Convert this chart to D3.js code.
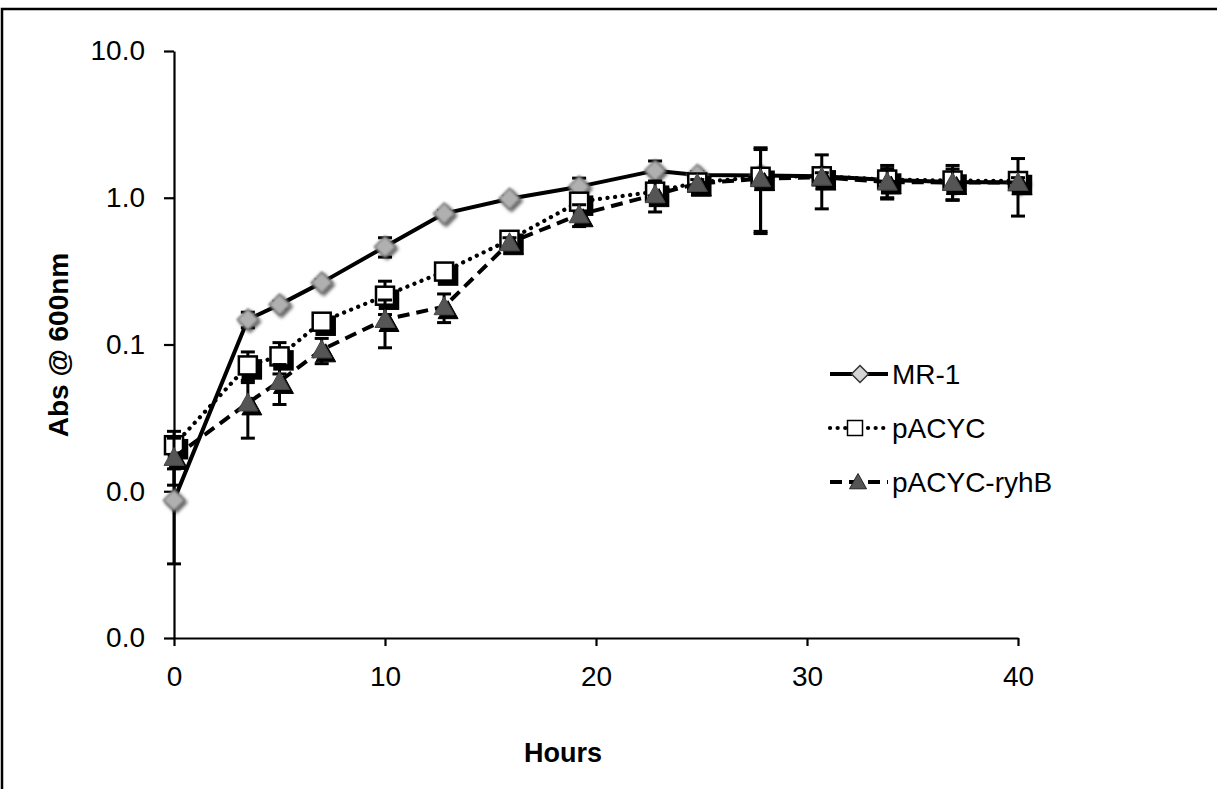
<!DOCTYPE html>
<html>
<head>
<meta charset="utf-8">
<script src="https://cdn.jsdelivr.net/npm/d3@7"></script>
<style>
  html, body { margin: 0; padding: 0; background: #fff; }
  svg { display: block; font-family: "Liberation Sans", Arial, sans-serif; }
</style>
</head>
<body>
<svg id="chart" width="1217" height="789"></svg>
<script>
// ---- data ----
const hours = [0, 3.5, 5, 7, 10, 12.8, 15.9, 19.2, 22.8, 24.8, 27.8, 30.7, 33.8, 36.9, 40];
const mr1 = [0.0087, 0.148, 0.187, 0.264, 0.464, 0.78, 0.985, 1.19, 1.53, 1.43, 1.42, 1.40, 1.32, 1.28, 1.27];
const mr1Err = [0.0055, 0.018, 0.01, 0.012, 0.07, 0.04, 0.04, 0.17, 0.25, 0.08, 0.05, 0.05, 0.05, 0.05, 0.05];
const pacyc = [0.0206, 0.072, 0.083, 0.143, 0.215, 0.314, 0.517, 0.94, 1.10, 1.27, 1.39, 1.40, 1.33, 1.31, 1.30];
const pacycErr = [0.005, 0.017, 0.02, 0.015, 0.055, 0.02, 0.04, 0.08, 0.15, 0.08, 0.8, 0.56, 0.33, 0.35, 0.55];
const ryhb = [0.017, 0.040, 0.056, 0.092, 0.148, 0.181, 0.494, 0.766, 1.05, 1.25, 1.35, 1.38, 1.28, 1.27, 1.27];
const ryhbErr = [0.006, 0.017, 0.017, 0.018, 0.053, 0.04, 0.04, 0.13, 0.25, 0.08, 0.78, 0.1, 0.3, 0.3, 0.1];
const seriesNames = ["MR-1", "pACYC", "pACYC-ryhB"];
const xTicks = [0, 10, 20, 30, 40];
const yTicks = [0.001, 0.01, 0.1, 1, 10];
const xTitle = "Hours";
const yTitle = "Abs @ 600nm";

// ---- layout ----
const svg = d3.select("#chart");
const x = d3.scaleLinear().domain([0, 40]).range([174, 1018]);
const y = d3.scaleLog().domain([0.001, 10]).range([638, 51]);

const defs = svg.append("defs");
const hard = defs.append("filter").attr("id", "hard").attr("x", "-50%").attr("y", "-50%").attr("width", "200%").attr("height", "200%");
hard.append("feDropShadow").attr("dx", 4).attr("dy", 4).attr("stdDeviation", 0.6).attr("flood-color", "#000").attr("flood-opacity", 1);
const soft = defs.append("filter").attr("id", "soft").attr("x", "-50%").attr("y", "-50%").attr("width", "200%").attr("height", "200%");
soft.append("feGaussianBlur").attr("in", "SourceGraphic").attr("stdDeviation", 0.9).attr("result", "b");
soft.append("feDropShadow").attr("in", "b").attr("dx", 2).attr("dy", 2).attr("stdDeviation", 1.5).attr("flood-color", "#000").attr("flood-opacity", 0.75);

// frame
svg.append("rect").attr("x", 2).attr("y", 9).attr("width", 1300).attr("height", 900)
  .attr("fill", "none").attr("stroke", "#000").attr("stroke-width", 2.5);

// axes
const yAxis = d3.axisLeft(y).tickValues(yTicks).tickFormat(d3.format(".1f")).tickSize(10).tickSizeOuter(0).tickPadding(19);
const gy = svg.append("g").attr("transform", "translate(174,0)").call(yAxis);
const xAxis = d3.axisBottom(x).tickValues(xTicks).tickSize(8).tickSizeOuter(0).tickPadding(20);
const gx = svg.append("g").attr("transform", "translate(0,638)").call(xAxis);
[gx, gy].forEach(g => {
  g.attr("font-size", 28).attr("font-family", "Liberation Sans, Arial, sans-serif");
  g.selectAll("path, line").attr("stroke", "#000").attr("stroke-width", 2.2);
  g.selectAll("text").attr("font-size", 28).attr("fill", "#000");
});

svg.append("text").attr("x", 563).attr("y", 762).attr("text-anchor", "middle")
  .attr("font-size", 27).attr("font-weight", "bold").text(xTitle);
svg.append("text").attr("transform", "translate(68,345) rotate(-90)").attr("text-anchor", "middle")
  .attr("font-size", 28).attr("font-weight", "bold").text(yTitle);

// series
const styles = [
  { vals: mr1, err: mr1Err, dash: null, cap: "butt", width: 4, marker: "diamond" },
  { vals: pacyc, err: pacycErr, dash: "0.1 7.5", cap: "round", width: 4.2, marker: "square" },
  { vals: ryhb, err: ryhbErr, dash: "12 7", cap: "butt", width: 4, marker: "triangle" }
];

function drawMarker(g, type, cx, cy, legend) {
  if (type === "diamond") {
    const s = legend ? 8.5 : 10.5;
    g.append("path").attr("d", `M${cx},${cy - s}L${cx + s},${cy}L${cx},${cy + s}L${cx - s},${cy}Z`)
      .attr("fill", legend ? "#d4d4d4" : "#b0b0b0").attr("stroke", legend ? "#333" : "#6e6e6e")
      .attr("stroke-width", 1.5).attr("filter", legend ? null : "url(#soft)");
  } else if (type === "square") {
    const s = legend ? 7.5 : 9;
    g.append("rect").attr("x", cx - s).attr("y", cy - s).attr("width", 2 * s).attr("height", 2 * s)
      .attr("fill", "#fff").attr("stroke", "#000").attr("stroke-width", legend ? 1.5 : 2.5)
      .attr("filter", legend ? null : "url(#hard)");
  } else {
    const s = legend ? 8.5 : 10;
    g.append("path").attr("d", `M${cx},${cy - s}L${cx + s},${cy + s * 0.8}L${cx - s},${cy + s * 0.8}Z`)
      .attr("fill", "#555").attr("stroke", legend ? "#222" : "#444").attr("stroke-width", 1)
      .attr("filter", legend ? null : "url(#hard)");
  }
}

const line = d3.line().x((d, i) => x(hours[i])).y(d => y(d));

styles.forEach(st => {
  const g = svg.append("g");
  const p = g.append("path").datum(st.vals).attr("d", line).attr("fill", "none")
    .attr("stroke", "#000").attr("stroke-width", st.width).attr("stroke-linecap", st.cap)
    .attr("stroke-linejoin", "round");
  if (st.dash) p.attr("stroke-dasharray", st.dash);
  // error bars
  st.vals.forEach((v, i) => {
    const cx = x(hours[i]);
    const lo = Math.max(v - st.err[i], 0.0011);
    const hi = v + st.err[i];
    g.append("line").attr("x1", cx).attr("x2", cx).attr("y1", y(hi)).attr("y2", y(lo))
      .attr("stroke", "#000").attr("stroke-width", 3);
    [hi, lo].forEach(e => g.append("line").attr("x1", cx - 7).attr("x2", cx + 7)
      .attr("y1", y(e)).attr("y2", y(e)).attr("stroke", "#000").attr("stroke-width", 3));
  });
  st.vals.forEach((v, i) => drawMarker(g, st.marker, x(hours[i]), y(v), false));
});

// legend
const leg = svg.append("g");
const legendX = [860, 855, 858];
styles.forEach((st, k) => {
  const ly = 374 + k * 54;
  const l = leg.append("line").attr("x1", 830).attr("x2", 888).attr("y1", ly).attr("y2", ly)
    .attr("stroke", "#000").attr("stroke-width", st.width).attr("stroke-linecap", st.cap);
  if (st.dash) l.attr("stroke-dasharray", st.dash);
  drawMarker(leg, st.marker, legendX[k], ly, true);
  leg.append("text").attr("x", 892).attr("y", ly + 10).attr("font-size", 28).text(seriesNames[k]);
});
</script>
</body>
</html>
